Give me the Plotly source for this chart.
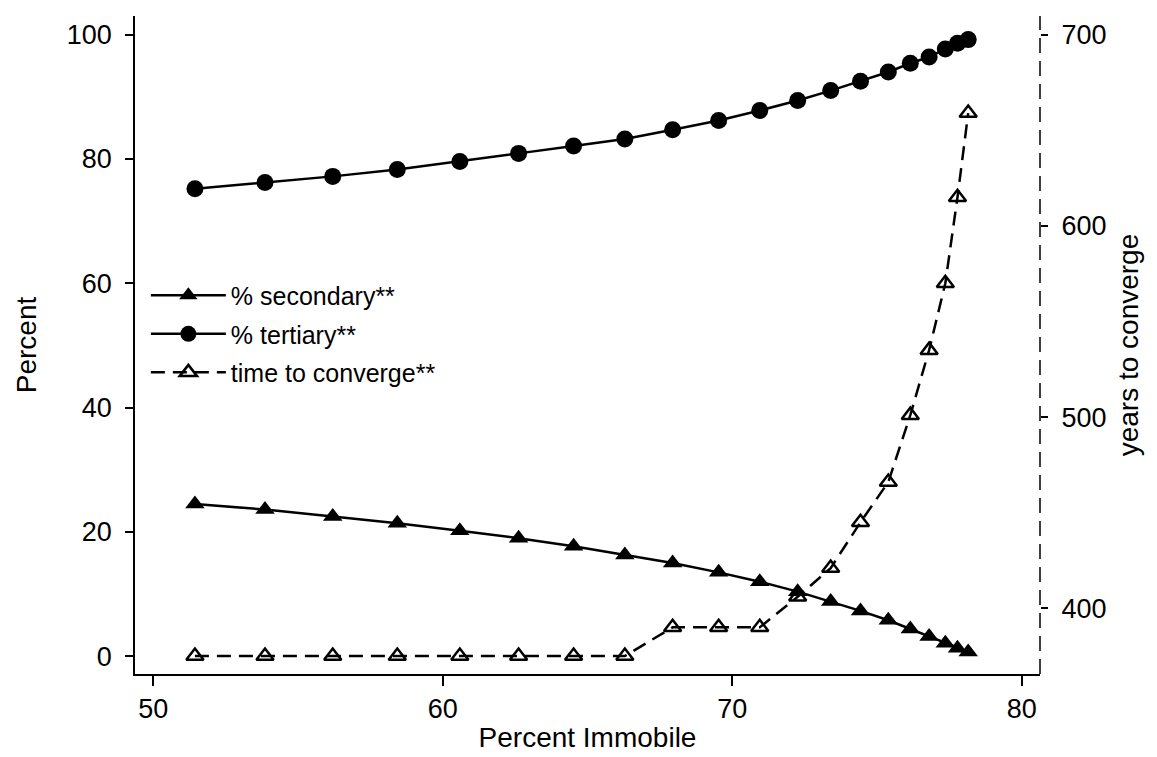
import plotly.graph_objects as go

# Data
pct_immobile = [51.44, 53.86, 56.20, 58.43, 60.59, 62.62, 64.52, 66.29,
                67.94, 69.53, 70.95, 72.26, 73.40, 74.43, 75.39, 76.15,
                76.80, 77.36, 77.78, 78.15]
pct_secondary = [24.5, 23.6, 22.5, 21.4, 20.2, 19.0, 17.7, 16.3,
                 15.0, 13.5, 12.0, 10.4, 8.8, 7.3, 5.8, 4.4,
                 3.2, 2.1, 1.3, 0.7]
pct_tertiary = [75.2, 76.2, 77.2, 78.3, 79.6, 80.9, 82.1, 83.2,
                84.7, 86.2, 87.8, 89.4, 91.0, 92.5, 94.0, 95.4,
                96.4, 97.7, 98.6, 99.2]
years_converge = [375, 375, 375, 375, 375, 375, 375, 375,
                  390, 390, 390, 406, 421, 445, 466, 501,
                  535, 570, 615, 659]

x_ticks = [50, 60, 70, 80]
y_ticks = [0, 20, 40, 60, 80, 100]
y2_ticks = [400, 500, 600, 700]

FONT = "Liberation Sans, Arial, sans-serif"

fig = go.Figure()
fig.add_trace(go.Scatter(
    x=pct_immobile, y=pct_secondary, name="% secondary**", mode="lines+markers",
    legendgroup="a",
    line=dict(color="black", width=2.5),
    marker=dict(symbol="triangle-up", size=17, color="black"),
))
fig.add_trace(go.Scatter(
    x=pct_immobile, y=pct_tertiary, name="% tertiary**", mode="lines+markers",
    legendgroup="b",
    line=dict(color="black", width=2.5),
    marker=dict(symbol="circle", size=17, color="black"),
))
fig.add_trace(go.Scatter(
    x=pct_immobile, y=years_converge, name="time to converge**", mode="lines+markers",
    legendgroup="c", yaxis="y2",
    line=dict(color="black", width=2.5, dash="14px,8px"),
    marker=dict(symbol="triangle-up-open", size=15, color="black",
                line=dict(width=2.5, color="black")),
))

fig.update_layout(
    width=1157, height=757,
    margin=dict(l=127, r=125, t=8, b=91),
    paper_bgcolor="white", plot_bgcolor="white",
    font=dict(family=FONT, color="black", size=26),
    showlegend=True,
    legend=dict(x=0.012, y=0.61, xanchor="left", yanchor="top",
                bgcolor="rgba(0,0,0,0)", font=dict(size=25, family=FONT),
                itemwidth=75, tracegroupgap=3),
    xaxis=dict(
        range=[49.37, 80.63], tickvals=x_ticks, showgrid=False, zeroline=False,
        showline=True, linecolor="black", linewidth=1.5,
        ticks="outside", ticklen=10, tickwidth=1.5, tickcolor="black",
        ticklabelstandoff=0,
        tickfont=dict(size=27), title=dict(text="Percent Immobile", font=dict(size=28), standoff=4),
    ),
    yaxis=dict(
        range=[-2.85, 103.0], tickvals=y_ticks, showgrid=False, zeroline=False,
        showline=True, linecolor="black", linewidth=1.5,
        ticks="outside", ticklen=8, tickwidth=1.5, tickcolor="black",
        ticklabelstandoff=8,
        tickfont=dict(size=27), title=dict(text="Percent", font=dict(size=28), standoff=22),
    ),
    yaxis2=dict(
        range=[365.6, 709.8], tickvals=y2_ticks, overlaying="y", side="right",
        showgrid=False, zeroline=False, showline=False,
        ticks="outside", ticklen=7, tickwidth=1.5, tickcolor="black",
        ticklabelstandoff=8,
        tickfont=dict(size=27), title=dict(text="years to converge", font=dict(size=28), standoff=12),
    ),
    shapes=[dict(type="line", xref="paper", yref="paper", x0=1, x1=1, y0=0, y1=1,
                 line=dict(color="black", width=1.5, dash="15px,8px"))],
)

fig.write_html("out.html")
